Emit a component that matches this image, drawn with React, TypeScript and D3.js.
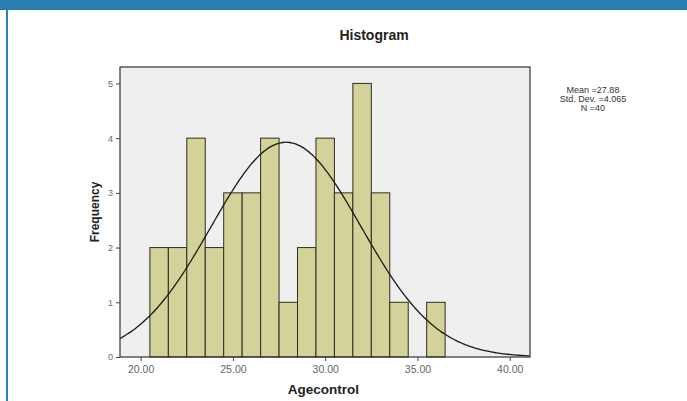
import React, { useRef, useEffect } from 'react'
import * as d3 from 'd3'

// histogram bins (width 1), start value of each bin
const binStarts = [20.5, 21.5, 22.5, 23.5, 24.5, 25.5, 26.5, 27.5, 28.5, 29.5, 30.5, 31.5, 32.5, 33.5, 34.5, 35.5]
const counts = [2, 2, 4, 2, 3, 3, 4, 1, 2, 4, 3, 5, 3, 1, 0, 1]
const xTicks = [20, 25, 30, 35, 40]
const yTicks = [0, 1, 2, 3, 4, 5]
const stats = { mean: 27.88, sd: 4.065, n: 40 }
const statLines = ['Mean =27.88', 'Std. Dev. =4.065', 'N =40']

const W = 687
const H = 401

export default function App() {
    const ref = useRef<SVGSVGElement>(null)
    const margin = { top: 67, right: 157, bottom: 44, left: 120 }

    useEffect(() => {
        const svg = d3.select(ref.current)
        svg.selectAll('*').remove()

        const font = '"Liberation Sans", Arial, sans-serif'

        svg.append('rect').attr('width', W).attr('height', H).attr('fill', '#ffffff')
        // blue frame from the page the chart was cut from
        svg.append('rect').attr('x', 0).attr('y', 0).attr('width', W).attr('height', 10).attr('fill', '#2a7db1')
        svg.append('rect').attr('x', 6).attr('y', 10).attr('width', 2).attr('height', H - 10).attr('fill', '#2e80b5')

        const x = d3.scaleLinear().domain([18.88, 41.1]).range([margin.left, W - margin.right])
        const y = d3.scaleLinear().domain([0, 5.3]).range([H - margin.bottom, margin.top])

        // plot area
        svg.append('rect')
            .attr('x', margin.left)
            .attr('y', margin.top)
            .attr('width', W - margin.right - margin.left)
            .attr('height', H - margin.bottom - margin.top)
            .attr('fill', '#efefef')

        // bars
        const bins = binStarts.map((s, i) => ({ s, c: counts[i] })).filter((b) => b.c > 0)
        svg.append('g')
            .selectAll('rect')
            .data(bins)
            .join('rect')
            .attr('x', (d) => x(d.s))
            .attr('y', (d) => y(d.c))
            .attr('width', (d) => x(d.s + 1) - x(d.s))
            .attr('height', (d) => y(0) - y(d.c))
            .attr('fill', '#d2d299')
            .attr('stroke', '#2e2e22')
            .attr('stroke-width', 1)

        // fitted normal curve
        const peak = stats.n / (stats.sd * Math.sqrt(2 * Math.PI))
        const xs = d3.range(18.88, 41.1, 0.1)
        const line = d3.line<number>()
            .x((d) => x(d))
            .y((d) => y(peak * Math.exp(-0.5 * Math.pow((d - stats.mean) / stats.sd, 2))))
            .curve(d3.curveBasis)
        svg.append('path')
            .datum(xs)
            .attr('d', line)
            .attr('fill', 'none')
            .attr('stroke', '#1a1a1a')
            .attr('stroke-width', 1.3)

        // frame
        svg.append('rect')
            .attr('x', margin.left)
            .attr('y', margin.top)
            .attr('width', W - margin.right - margin.left)
            .attr('height', H - margin.bottom - margin.top)
            .attr('fill', 'none')
            .attr('stroke', '#333')
            .attr('stroke-width', 1.2)

        // axes
        const xAxis = svg.append('g')
            .attr('transform', 'translate(0,' + (H - margin.bottom) + ')')
            .call(d3.axisBottom(x).tickValues(xTicks).tickFormat((d) => d3.format('.2f')(d as number)).tickSize(4).tickSizeOuter(0))
        xAxis.select('.domain').remove()

        const yAxis = svg.append('g')
            .attr('transform', 'translate(' + margin.left + ',0)')
            .call(d3.axisLeft(y).tickValues(yTicks).tickFormat(d3.format('d')).tickSize(4).tickSizeOuter(0))
        yAxis.select('.domain').remove()

        svg.selectAll('.tick line').attr('stroke', '#444')
        svg.selectAll('.tick text')
            .attr('font-family', font)
            .attr('font-size', 10.5)
            .attr('fill', '#666')
        xAxis.selectAll('.tick text').attr('dy', '0.85em')
        yAxis.selectAll('.tick text').attr('font-size', 9)

        // titles
        svg.append('text')
            .attr('x', 374)
            .attr('y', 40)
            .attr('text-anchor', 'middle')
            .attr('font-family', font)
            .attr('font-weight', 'bold')
            .attr('font-size', 14)
            .attr('fill', '#222')
            .text('Histogram')

        svg.append('text')
            .attr('x', x(29.9))
            .attr('y', 394)
            .attr('text-anchor', 'middle')
            .attr('font-family', font)
            .attr('font-weight', 'bold')
            .attr('font-size', 13.5)
            .attr('fill', '#222')
            .text('Agecontrol')

        svg.append('text')
            .attr('transform', 'translate(99,' + y(2.65) + ') rotate(-90)')
            .attr('text-anchor', 'middle')
            .attr('font-family', font)
            .attr('font-weight', 'bold')
            .attr('font-size', 12)
            .attr('fill', '#222')
            .text('Frequency')

        // stats box text
        svg.append('g')
            .selectAll('text')
            .data(statLines)
            .join('text')
            .attr('x', 593)
            .attr('y', (d, i) => 93 + i * 9)
            .attr('text-anchor', 'middle')
            .attr('font-family', font)
            .attr('font-size', 9)
            .attr('fill', '#333')
            .text((d) => d)
    }, [])

    return (
        <svg
            ref={ref}
            width={W}
            height={H}
            style={{ position: 'absolute', left: 0, top: 0, display: 'block' }}
        ></svg>
    )
}
